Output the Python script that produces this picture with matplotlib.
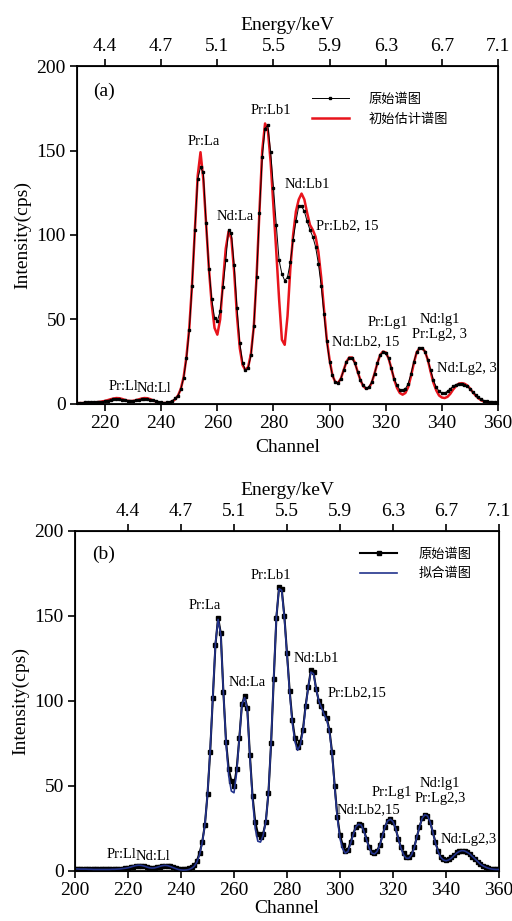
import numpy as np
import matplotlib
matplotlib.use("Agg")
import matplotlib.pyplot as plt

plt.rcParams['font.family'] = ['Liberation Serif', 'Noto Sans CJK SC']
plt.rcParams['axes.unicode_minus'] = False

# ---- data ----
# panel (a): channels 210..360
chan_a = np.arange(210, 361)
raw_a = [
    0.8, 0.8, 0.8, 0.9, 0.9, 1.0, 1.0, 1.1, 1.2, 1.4,             # 210-219
    1.6, 2.0, 2.5, 2.9, 3.1, 3.0, 2.6, 2.1, 1.8, 1.7,             # 220-229
    1.8, 2.1, 2.5, 2.9, 3.1, 3.0, 2.6, 2.1, 1.6, 1.2,             # 230-239
    0.9, 0.8, 0.9, 1.2, 2.0, 3.3, 5.0, 8.7, 15.6, 27,             # 240-249
    44, 70, 103, 133, 140, 137, 107, 80, 62, 51,                  # 250-259
    49, 55, 69, 85, 103, 101, 82, 57, 36, 24.5,                   # 260-269
    19.8, 21.2, 29, 46, 75, 113, 146, 163, 165, 149,              # 270-279
    128, 106, 85, 77, 73, 75, 84, 97, 108, 117,                   # 280-289
    117, 114, 108, 103, 99, 93, 83, 70, 53, 37,                   # 290-299
    25, 17, 13, 12.5, 15, 20, 25, 27, 27, 24,                     # 300-309
    19, 14, 11, 9.5, 10, 13, 18, 24, 29, 30.5,                    # 310-319
    30, 27, 21, 15, 11, 8.5, 8, 9, 12, 18,                        # 320-329
    25, 30.5, 33, 33, 31, 26, 20, 14, 10, 7.5,                    # 330-339
    6.5, 6.5, 7.5, 9, 10.5, 11.5, 12, 12, 11.5, 10.5,             # 340-349
    9, 7, 5.5, 4, 3, 2, 1.5, 1.2, 1.0, 1.0,                       # 350-359
    1.0,                                                          # 360
]
init_a = [
    0.5, 0.5, 0.5, 0.6, 0.7, 0.8, 0.9, 1.0, 1.2, 1.5,
    1.8, 2.3, 2.8, 3.2, 3.5, 3.4, 3.0, 2.4, 1.9, 1.7,
    1.8, 2.2, 2.7, 3.2, 3.5, 3.4, 2.9, 2.2, 1.5, 1.0,
    0.7, 0.5, 0.6, 0.9, 1.5, 2.8, 5.0, 9, 16, 28,
    45, 71, 103, 135, 149, 133, 106, 80, 59, 45,
    41, 50, 72, 92, 102, 98, 78, 52, 33, 23,
    20, 22, 30, 46, 76, 114, 150, 166, 162, 143,
    117, 90, 62, 38, 35, 52, 80, 100, 114, 121,
    124.5, 121, 113, 106, 103, 99, 90, 75, 56, 38,
    26, 17, 13, 12.5, 15, 20, 25, 27.5, 27.5, 24.5,
    19, 14, 10.5, 9, 9.5, 12.5, 18, 24, 29, 31,
    30.5, 27, 21, 14.5, 9.5, 6.5, 5.5, 6.5, 10, 16.5,
    24, 30.5, 33, 33, 31, 26, 19, 12.5, 8, 5,
    3.8, 3.5, 4.2, 6, 8.5, 10.5, 12, 12.3, 12, 11,
    9.2, 7, 5, 3.4, 2.2, 1.4, 1.0, 0.7, 0.6, 0.5,
    0.5,
]

# panel (b): channels 200..360
chan_b = np.arange(200, 361)
raw_b = [
    1.3, 1.3, 1.2, 1.2, 1.2, 1.1, 1.1, 1.0, 1.0, 1.0,             # 200-209
    1.0, 1.0, 1.0, 1.0, 1.1, 1.1, 1.2, 1.3, 1.4, 1.6,             # 210-219
    1.8, 2.2, 2.6, 3.0, 3.2, 3.2, 2.9, 2.4, 2.0, 1.8,             # 220-229
    1.9, 2.2, 2.6, 3.0, 3.2, 3.1, 2.7, 2.2, 1.7, 1.3,             # 230-239
    1.1, 1.0, 1.1, 1.5, 2.2, 3.5, 6, 10.5, 17, 27,                # 240-249
    45, 70, 102, 133, 149, 140, 105, 76, 60, 53,                  # 250-259
    50, 60, 78, 98, 103, 96, 68, 44, 29, 22,                      # 260-269
    20, 22, 29, 46, 75, 113, 149, 167, 166, 150,                  # 270-279
    128, 106, 89, 78, 73, 76, 83, 97, 108, 118,                   # 280-289
    117, 107, 100, 97, 93, 90, 83, 70, 50, 32,                    # 290-299
    21, 15.5, 12, 12.5, 17, 22, 26, 27.5, 27, 24,                 # 300-309
    19, 14, 11, 10.5, 12, 15, 21, 26, 29.5, 30.4,                 # 310-319
    29, 25, 19, 14, 10.5, 8.5, 8.5, 10, 14, 20,                   # 320-329
    26, 31, 33, 32.5, 29, 23, 17, 12, 8.5, 7,                     # 330-339
    6.5, 7, 8, 9.5, 11, 11.8, 12, 11.8, 11, 10,                   # 340-349
    8.5, 7, 5.5, 4, 3, 2.2, 1.6, 1.3, 1.1, 1.0,                   # 350-359
    1.0,                                                          # 360
]
fit_b = [
    1.2, 1.2, 1.1, 1.1, 1.1, 1.0, 1.0, 0.9, 0.9, 0.9,
    0.9, 0.9, 0.9, 0.9, 1.0, 1.0, 1.1, 1.2, 1.4, 1.6,
    1.9, 2.3, 2.8, 3.2, 3.4, 3.3, 2.9, 2.4, 1.9, 1.7,
    1.8, 2.2, 2.7, 3.1, 3.3, 3.1, 2.6, 2.0, 1.4, 0.9,
    0.6, 0.5, 0.6, 0.9, 1.6, 2.8, 5.2, 9.5, 16.5, 27,
    45, 71, 103, 134, 148, 139, 105, 75, 56, 47,
    46, 58, 78, 98, 102, 95, 67, 42, 25, 17.5,
    17, 21, 29, 46, 76, 114, 150, 166, 165, 149,
    127, 105, 87, 76, 71, 74, 82, 96, 108, 117,
    116, 107, 100, 96, 92, 89, 82, 69, 49, 31,
    19, 13, 10.5, 11.5, 16, 21.5, 26, 27.5, 27, 23.5,
    18.5, 13.5, 10.5, 10, 11.5, 15, 20.5, 26, 29.5, 30.4,
    29, 25, 19, 13.5, 9.5, 7.5, 7.5, 9.5, 13.5, 20,
    26, 31, 33, 32.5, 29, 23, 16.5, 11.5, 8, 6.5,
    6, 6.5, 7.5, 9, 10.5, 11.5, 12, 11.8, 11, 10,
    8.5, 7, 5.5, 4, 3, 2.2, 1.6, 1.2, 1.0, 0.9,
    0.9,
]

chan_ticks = [220, 240, 260, 280, 300, 320, 340, 360]
energy_labels = ['4.4', '4.7', '5.1', '5.5', '5.9', '6.3', '6.7', '7.1']

# peak labels (text, channel, intensity) for each panel
peaks_a = [
    ('Pr:La', 255.3, 155.5), ('Nd:La', 266.3, 111), ('Pr:Lb1', 279, 173.5),
    ('Nd:Lb1', 292.2, 130), ('Nd:Lb2, 15', 312.8, 37), ('Pr:Lg1', 320.7, 48),
    ('Nd:lg1\nPr:Lg2, 3', 339.1, 45.5), ('Nd:Lg2, 3', 349, 21),
    ('Pr:Ll', 226.5, 10.2), ('Nd:Ll', 237.4, 9.3),
]
peaks_b = [
    ('Pr:La', 248.8, 156), ('Nd:La', 264.8, 110.8), ('Pr:Lb1', 273.8, 173.7),
    ('Nd:Lb1', 291, 125), ('Nd:Lb2,15', 310.7, 36.3), ('Pr:Lg1', 319.5, 46),
    ('Nd:lg1\nPr:Lg2,3', 337.7, 47), ('Nd:Lg2,3', 348.4, 18.6),
    ('Pr:Ll', 217.6, 9.8), ('Nd:Ll', 229.6, 8.8),
]


def style_axes(ax, xlim, xticks, xpad):
    ax.set_xlim(*xlim)
    ax.set_ylim(0, 200)
    ax.set_yticks([0, 50, 100, 150, 200])
    ax.set_xticks(xticks)
    ax.tick_params(direction='out', length=5, width=1.2, labelsize=14, pad=3)
    for sp in ax.spines.values():
        sp.set_linewidth(1.3)
    ax.set_xlabel('Channel', fontsize=14, labelpad=xpad)
    ax.set_ylabel('Intensity(cps)', fontsize=14, labelpad=4)

    top = ax.twiny()
    top.set_xlim(*xlim)
    top.set_xticks(chan_ticks)
    top.set_xticklabels(energy_labels)
    top.tick_params(direction='out', length=5, width=1.2, labelsize=14, pad=3)
    top.set_xlabel('Energy/keV', fontsize=14, labelpad=6)
    return top


fig = plt.figure(figsize=(5.12, 9.21), dpi=100)

# ---- panel (a) ----
ax1 = fig.add_axes([0.1504, 0.5614, 0.8223, 0.3669])
ax1.plot(chan_a, init_a, color='#e8141c', lw=1.8, label='初始估计谱图', zorder=2)
ax1.plot(chan_a, raw_a, color='black', lw=0.7, marker='s', markersize=1.8,
         label='原始谱图', zorder=3)
style_axes(ax1, (210, 360), chan_ticks, 5)
ax1.text(219.6, 185, '(a)', fontsize=14, ha='center', va='center')
for txt, x, y in peaks_a:
    ax1.text(x, y, txt, fontsize=10.5, ha='center', va='center', linespacing=1.2)
ax1.text(295.1, 105.5, 'Pr:Lb2, 15', fontsize=10.5, ha='left', va='center')
h, l = ax1.get_legend_handles_labels()
ax1.legend(h[::-1], l[::-1], loc='upper left', bbox_to_anchor=(0.545, 0.935),
           frameon=False, fontsize=9.5, handlelength=2.8, handletextpad=1.5,
           labelspacing=0.55, borderaxespad=0)

# ---- panel (b) ----
ax2 = fig.add_axes([0.1465, 0.0543, 0.8281, 0.3692])
ax2.plot(chan_b, raw_b, color='black', lw=1.5, marker='s', markersize=2.8,
         label='原始谱图', zorder=2)
ax2.plot(chan_b, fit_b, color='#23338c', lw=1.2, label='拟合谱图', zorder=3)
style_axes(ax2, (200, 360), [200] + chan_ticks, 1)
ax2.text(210.7, 186, '(b)', fontsize=14, ha='center', va='center')
for txt, x, y in peaks_b:
    ax2.text(x, y, txt, fontsize=10.5, ha='center', va='center', linespacing=1.2)
ax2.text(295.3, 105, 'Pr:Lb2,15', fontsize=10.5, ha='left', va='center')
ax2.legend(loc='upper left', bbox_to_anchor=(0.66, 0.965),
           frameon=False, fontsize=9.5, handlelength=2.8, handletextpad=1.6,
           labelspacing=0.55, borderaxespad=0)

fig.savefig('out.png', dpi=100)
